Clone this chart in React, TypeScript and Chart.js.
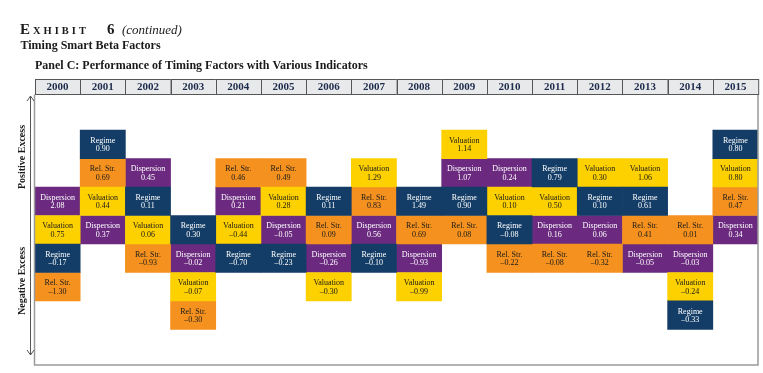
import { useEffect, useRef } from "react";
import { Chart, registerables } from "chart.js";

Chart.register(...registerables);

const years = ["2000", "2001", "2002", "2003", "2004", "2005", "2006", "2007", "2008", "2009", "2010", "2011", "2012", "2013", "2014", "2015"];
const indicators = ["Regime", "Valuation", "Rel. Str.", "Dispersion"];
const regime = [-0.17, 0.9, 0.11, 0.3, -0.7, -0.23, 0.11, -0.1, 1.49, 0.9, -0.08, 0.79, 0.1, 0.61, -0.33, 0.8];
const valuation = [0.75, 0.44, 0.06, -0.07, -0.44, 0.28, -0.3, 1.29, -0.99, 1.14, 0.1, 0.5, 0.3, 1.06, -0.24, 0.8];
const relStr = [-1.3, 0.69, -0.93, -0.3, 0.46, 0.49, 0.09, 0.83, 0.69, 0.08, -0.22, -0.08, -0.32, 0.41, 0.01, 0.47];
const dispersion = [2.08, 0.37, 0.45, -0.02, 0.21, -0.05, -0.26, 0.56, -0.93, 1.07, 0.24, 0.16, 0.06, -0.05, -0.03, 0.34];
// first (top) row occupied by each year's column of ranked cells
const startRow = [2, 0, 1, 3, 1, 1, 2, 1, 2, 0, 1, 1, 1, 1, 3, 0];

const series = [regime, valuation, relStr, dispersion];
const colors = ["#133d66", "#fdd000", "#f4911f", "#6b2a7f"];
const textColors = ["#ffffff", "#1a1a1a", "#1a1a1a", "#ffffff"];
const SERIF = "'Liberation Serif', 'Times New Roman', serif";

function computeRows(): number[][] {
  const rows = series.map(() => years.map(() => 0));
  years.forEach((_, yi) => {
    const order = series.map((s, si) => ({ si, v: s[yi] }));
    order.sort((a, b) => b.v - a.v);
    order.forEach((o, rank) => {
      rows[o.si][yi] = startRow[yi] + rank;
    });
  });
  return rows;
}

function fmt(v: number): string {
  return v < 0 ? "\u2013" + Math.abs(v).toFixed(2) : v.toFixed(2);
}

const decor = {
  id: "decor",
  afterDatasetsDraw(chart: any) {
    const ctx = chart.ctx as CanvasRenderingContext2D;
    ctx.save();
    ctx.textAlign = "center";
    ctx.textBaseline = "alphabetic";
    ctx.font = `8px ${SERIF}`;
    chart.data.datasets.forEach((_: any, di: number) => {
      const meta = chart.getDatasetMeta(di);
      meta.data.forEach((el: any, i: number) => {
        const p = el.getProps(["x", "y", "base"], true);
        const cy = (p.y + p.base) / 2;
        ctx.fillStyle = textColors[di];
        ctx.fillText(indicators[di], p.x, cy - 1.5);
        ctx.fillText(fmt(series[di][i]), p.x, cy + 7);
      });
    });
    ctx.restore();
  },
  afterDraw(chart: any) {
    const ctx = chart.ctx as CanvasRenderingContext2D;
    const area = chart.chartArea;
    const xs = chart.scales.x;
    const n = years.length;
    const w = (area.right - area.left) / n;
    ctx.save();

    // plot frame
    ctx.strokeStyle = "#9a9a9a";
    ctx.lineWidth = 1.5;
    ctx.beginPath();
    ctx.moveTo(area.left - 0.5, area.top);
    ctx.lineTo(area.left - 0.5, area.bottom);
    ctx.lineTo(area.right, area.bottom);
    ctx.lineTo(area.right, area.top);
    ctx.stroke();

    // header row
    const hTop = 79.5;
    const hBot = area.top;
    ctx.lineWidth = 1;
    for (let i = 0; i < n; i++) {
      const cx = xs.getPixelForValue(i);
      const x0 = cx - w / 2;
      ctx.fillStyle = "#e8e9eb";
      ctx.fillRect(x0, hTop, w, hBot - hTop);
      ctx.strokeStyle = "#555555";
      ctx.strokeRect(Math.round(x0) + 0.5, hTop, w, hBot - hTop);
      ctx.fillStyle = "#1d2b4c";
      ctx.font = `bold 11px ${SERIF}`;
      ctx.textAlign = "center";
      ctx.textBaseline = "middle";
      ctx.fillText(xs.getLabelForValue(i), cx, (hTop + hBot) / 2 + 0.5);
    }

    // vertical double arrow
    ctx.strokeStyle = "#555555";
    ctx.lineWidth = 1;
    const ax = 30.5;
    const aTop = 96;
    const aBot = 355;
    ctx.beginPath();
    ctx.moveTo(ax, aTop);
    ctx.lineTo(ax, aBot);
    ctx.moveTo(ax - 3.5, aTop + 5);
    ctx.lineTo(ax, aTop);
    ctx.lineTo(ax + 3.5, aTop + 5);
    ctx.moveTo(ax - 3.5, aBot - 5);
    ctx.lineTo(ax, aBot);
    ctx.lineTo(ax + 3.5, aBot - 5);
    ctx.stroke();

    // side labels
    ctx.fillStyle = "#1a1a1a";
    ctx.font = `bold 10px ${SERIF}`;
    ctx.textAlign = "center";
    ctx.textBaseline = "middle";
    [["Positive Excess", 157], ["Negative Excess", 281]].forEach(([t, cy]) => {
      ctx.save();
      ctx.translate(22, cy as number);
      ctx.rotate(-Math.PI / 2);
      ctx.fillText(t as string, 0, 0);
      ctx.restore();
    });

    // titles
    ctx.textAlign = "left";
    ctx.textBaseline = "alphabetic";
    ctx.fillStyle = "#1a1a1a";
    ctx.font = `bold 15px ${SERIF}`;
    ctx.fillText("E", 20, 33.5);
    ctx.font = `bold 10.5px ${SERIF}`;
    (ctx as any).letterSpacing = "3px";
    ctx.fillText("XHIBIT", 33, 33.5);
    (ctx as any).letterSpacing = "0px";
    ctx.font = `bold 15px ${SERIF}`;
    ctx.fillText("6", 107, 33.5);
    ctx.font = `italic 13px ${SERIF}`;
    ctx.fillText("(continued)", 122, 33.5);
    ctx.font = `bold 12px ${SERIF}`;
    ctx.fillText("Timing Smart Beta Factors", 20.5, 49.3);
    ctx.font = `bold 12px ${SERIF}`;
    ctx.fillText("Panel C: Performance of Timing Factors with Various Indicators", 35, 68.5);

    ctx.restore();
  },
};

export default function App() {
  const ref = useRef<HTMLCanvasElement>(null);
  useEffect(() => {
    if (!ref.current) return;
    const rows = computeRows();
    const chart = new Chart(ref.current, {
      type: "bar",
      data: {
        labels: years,
        datasets: indicators.map((name, di) => ({
          label: name,
          data: rows[di].map((r) => [r, r + 1]) as any,
          backgroundColor: colors[di],
          borderWidth: 0,
          borderSkipped: false,
          grouped: false,
          categoryPercentage: 1,
          barPercentage: 1,
        })),
      },
      options: {
        responsive: false,
        devicePixelRatio: 1,
        animation: false,
        layout: { padding: { left: 35, right: 5, top: 94.5, bottom: 8 } },
        scales: {
          x: { type: "category", display: false, offset: true },
          y: { type: "linear", display: false, min: -1.25, max: 8.25, reverse: true },
        },
        plugins: {
          legend: { display: false },
          tooltip: { enabled: false },
          title: { display: false },
        },
      },
      plugins: [decor],
    });
    return () => chart.destroy();
  }, []);
  return (
    <div style={{ position: "fixed", left: 0, top: 0, width: 763, height: 373, background: "#fff" }}>
      <canvas ref={ref} width={763} height={373} style={{ display: "block" }} />
    </div>
  );
}
